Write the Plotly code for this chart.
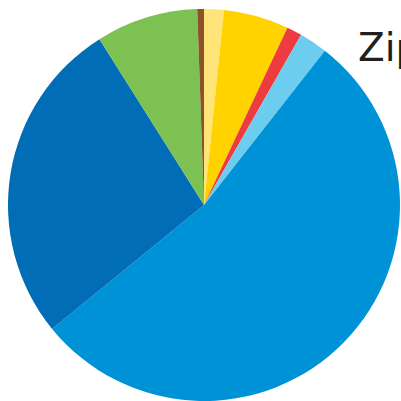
import plotly.graph_objects as go

labels = ["A", "B", "C", "D", "E", "F", "G", "H"]
values = [1.63, 5.37, 1.25, 2.33, 53.53, 26.94, 8.40, 0.55]
colors = ["#FFE47A", "#FFD200", "#EE3B3F", "#6CCDEE", "#0092D6", "#006DB6", "#7DC153", "#8B5327"]
title_text = "Zip"

W, H = 401, 401
fig = go.Figure(go.Pie(
    labels=labels, values=values, sort=False, direction="clockwise", rotation=0,
    marker=dict(colors=colors, line=dict(width=0)),
    textinfo="none", hoverinfo="label+percent", showlegend=False,
    domain=dict(x=[8 / W, 400 / W], y=[0, 392 / H]),
))
fig.add_annotation(
    text=title_text, x=356 / W, y=1 - 72 / H, xref="paper", yref="paper",
    xanchor="left", yanchor="bottom", showarrow=False,
    font=dict(family="DejaVu Sans", size=39, color="#231F20"),
)
fig.update_layout(width=W, height=H, margin=dict(l=0, r=0, t=0, b=0),
                  paper_bgcolor="white", plot_bgcolor="white")
fig.write_html("out.html", config={"displayModeBar": False},
               post_script="document.body.style.margin='0';document.body.style.overflow='hidden';")
